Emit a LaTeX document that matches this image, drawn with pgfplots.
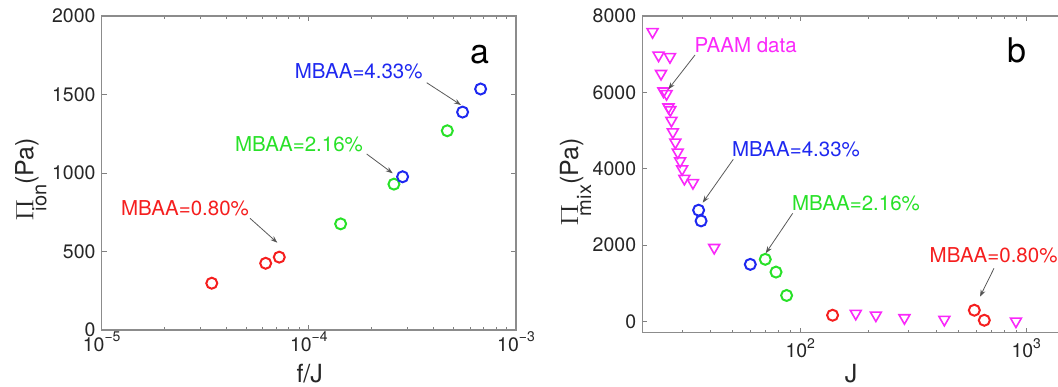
\documentclass[border=0pt]{standalone}
\usepackage{pgfplots}
\pgfplotsset{compat=1.18}
\usepackage{fontspec}
\setmainfont{TeX Gyre Heros}
\usetikzlibrary{arrows.meta}

\definecolor{mred}{RGB}{245,30,30}
\definecolor{mgreen}{RGB}{40,225,40}
\definecolor{mblue}{RGB}{30,40,240}
\definecolor{mmag}{RGB}{250,40,250}

% power-of-ten tick label in the text font
\newcommand{\pw}[1]{10\raisebox{9.5pt}{\fontsize{14}{14}\selectfont #1}}
% rotated quantity label: Pi with a lowered subscript, then the unit
\newcommand{\qlab}[1]{\scalebox{1.3}[1]{\fontsize{32}{32}\selectfont$\Pi$}\kern-12pt\raisebox{-13pt}{\fontsize{20}{20}\selectfont #1}\fontsize{25}{28}\selectfont(Pa)}

\pgfplotsset{
  panel/.style={
    scale only axis,
    axis line style={black!45, line width=1.3pt},
    tick align=inside, major tick length=5pt, minor tick length=3pt,
    tick style={black!50, line width=0.8pt},
    tick label style={font=\fontsize{19.5}{22}\selectfont, text=black!85},
    xticklabel style={inner sep=0pt},
    yticklabel style={inner sep=0pt, xshift=-6pt},
  },
  circ/.style={only marks, mark=o, mark size=5.5pt, line width=2pt},
  tri/.style={only marks, mark=triangle, mark size=6.3pt, line width=1.6pt,
    mark options={rotate=180}},
}
\tikzset{
  note/.style={font=\fontsize{20.5}{23}\selectfont, inner sep=0pt},
  pointer/.style={draw=black!65, line width=0.8pt,
    -{Stealth[length=7pt,width=5pt,fill=black!80]}},
}

\begin{document}
\begin{tikzpicture}

% ---------------- panel a ----------------
\begin{axis}[xmode=log, panel,
  at={(101.7pt,56pt)}, anchor=south west,
  width=414.3pt, height=314pt,
  xmin=1e-5, xmax=1e-3, ymin=0, ymax=2000,
  xtick={1e-5,1e-4,1e-3},
  xticklabels={\pw{−5},\pw{−4},\pw{−3}},
  minor xtick={2e-5,3e-5,4e-5,5e-5,6e-5,7e-5,8e-5,9e-5,
               2e-4,3e-4,4e-4,5e-4,6e-4,7e-4,8e-4,9e-4},
  xticklabel style={yshift=-1.7pt},
  ytick={0,500,1000,1500,2000},
  yticklabels={0,500,1000,1500,2000},
]
\addplot[circ, mred] coordinates {(3.40e-5,298) (6.19e-5,425) (7.20e-5,464)};
\addplot[circ, mgreen] coordinates {(1.424e-4,676) (2.575e-4,929) (4.66e-4,1269)};
\addplot[circ, mblue] coordinates {(2.836e-4,976) (5.524e-4,1388) (6.75e-4,1535)};
\end{axis}

% ---------------- panel b ----------------
\begin{axis}[xmode=log, panel,
  at={(642.3pt,53.3pt)}, anchor=south west,
  width=452pt, height=316.7pt,
  xmin=20, xmax=2000, ymin=-300, ymax=8000,
  xtick={100,1000},
  xticklabels={\pw{2},\pw{3}},
  minor xtick={30,40,50,60,70,80,90,200,300,400,500,600,700,800,900},
  xticklabel style={yshift=-5.6pt},
  ytick={0,2000,4000,6000,8000},
  yticklabels={0,2000,4000,6000,8000},
]
\addplot[tri, mmag] coordinates {
  (22.2,7585) (23.6,6970) (26.5,6930) (24.2,6490) (24.8,6030) (25.6,5960)
  (26.1,5610) (26.6,5540) (26.9,5260) (27.3,4960) (28.0,4690) (28.7,4430)
  (29.4,4200) (30.0,3990) (30.7,3740) (33.5,3630) (41.6,1930)
  (176,203) (216,158) (289,89) (434,45) (900,0)};
\addplot[circ, mblue] coordinates {(35.5,2911) (36.4,2630) (60.1,1491)};
\addplot[circ, mgreen] coordinates {(70.0,1623) (78.1,1289) (87.0,676)};
\addplot[circ, mred] coordinates {(139,158) (589,289) (652,26)};
\end{axis}

% axis titles
\node[font=\fontsize{25}{28}\selectfont, text=black!85] at (309.7pt,12.5pt) {f/J};
\node[font=\fontsize{25}{28}\selectfont, text=black!85] at (851pt,12.5pt) {J};
\node[rotate=90, anchor=base west, inner sep=0pt, text=black!85] at (33.3pt,164.3pt) {\qlab{ion}};
\node[rotate=90, anchor=base west, inner sep=0pt, text=black!85] at (578pt,159.3pt) {\qlab{mix}};

% panel letters
\node[font=\fontsize{34}{36}\selectfont, inner sep=0pt] at (480pt,331pt) {a};
\node[font=\fontsize{34}{36}\selectfont, inner sep=0pt] at (1017pt,336pt) {b};

% annotations, panel a
\node[note, text=mblue] at (358.7pt,314.3pt) {MBAA=4.33\%};
\node[note, text=mgreen] at (299pt,241.5pt) {MBAA=2.16\%};
\node[note, text=mred] at (185pt,177.7pt) {MBAA=0.80\%};
\draw[pointer] (426.7pt,303.3pt) -- (461pt,281pt);
\draw[pointer] (366.7pt,232pt) -- (392.7pt,212.7pt);
\draw[pointer] (250pt,167.7pt) -- (277.3pt,143.3pt);

% annotations, panel b
\node[note, text=mmag] at (745.7pt,341pt) {PAAM data};
\node[note, text=mblue] at (796pt,237pt) {MBAA=4.33\%};
\node[note, text=mgreen] at (856pt,183pt) {MBAA=2.16\%};
\node[note, text=mred, anchor=west] at (929.5pt,131pt) {MBAA=0.80\%};
\draw[pointer] (695pt,331pt) -- (668.3pt,296.7pt);
\draw[pointer] (733.3pt,226.7pt) -- (702.7pt,183.3pt);
\draw[pointer] (792.7pt,172.7pt) -- (765.7pt,132.7pt);
\draw[pointer] (994pt,117.7pt) -- (980pt,89.3pt);

\pgfresetboundingbox
\path[use as bounding box] (0pt,0pt) rectangle (1058pt,386pt);
\end{tikzpicture}
\end{document}
